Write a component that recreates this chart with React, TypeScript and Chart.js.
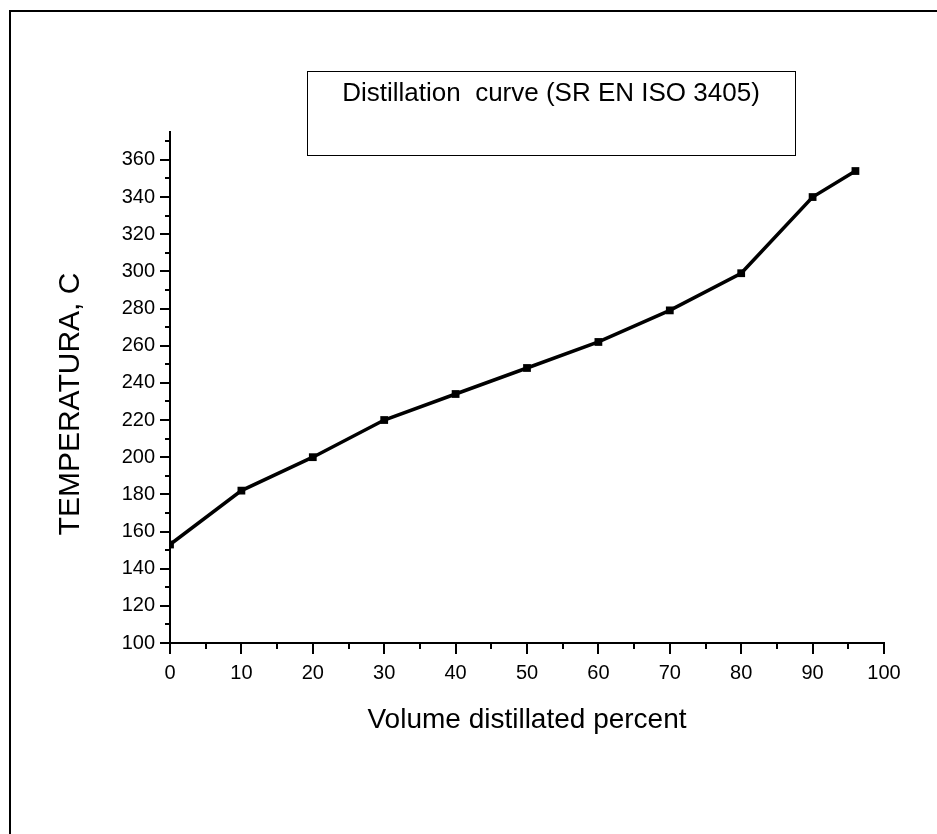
import { useEffect, useRef } from 'react';
import { Chart, registerables } from 'chart.js';

Chart.register(...registerables);

const volumePercent = [0, 10, 20, 30, 40, 50, 60, 70, 80, 90, 96];
const temperatureC = [153, 182, 200, 220, 234, 248, 262, 279, 299, 340, 354];
const xMajorTicks = [0, 10, 20, 30, 40, 50, 60, 70, 80, 90, 100];
const yMajorTicks = [100, 120, 140, 160, 180, 200, 220, 240, 260, 280, 300, 320, 340, 360];
const chartTitle = 'Distillation  curve (SR EN ISO 3405)';
const xAxisTitle = 'Volume distillated percent';
const yAxisTitle = 'TEMPERATURA, C';

const FONT = "'Liberation Sans', Arial, sans-serif";

export default function App() {
  const canvasRef = useRef<HTMLCanvasElement | null>(null);

  useEffect(() => {
    const canvas = canvasRef.current;
    if (!canvas) return;

    const decorations = {
      id: 'decorations',
      afterDraw(chart: any) {
        const ctx = chart.ctx;
        const xs = chart.scales.x;
        const ys = chart.scales.y;
        const area = chart.chartArea;
        ctx.save();
        ctx.fillStyle = '#000';
        // outer frame (top + left)
        ctx.fillRect(9, 10, 937, 2);
        ctx.fillRect(9, 10, 2, 834);

        // minor + major ticks on y
        for (let v = yMajorTicks[0]; v <= ys.max; v += 10) {
          const y = Math.round(ys.getPixelForValue(v));
          const len = yMajorTicks.includes(v) ? 10 : 5;
          ctx.fillRect(area.left - len, y - 1, len, 2);
        }
        // minor + major ticks on x
        for (let v = xMajorTicks[0]; v <= xMajorTicks[xMajorTicks.length - 1]; v += 5) {
          const x = Math.round(xs.getPixelForValue(v));
          const len = xMajorTicks.includes(v) ? 11 : 6;
          ctx.fillRect(x - 1, area.bottom, 2, len);
        }

        // title box
        ctx.strokeStyle = '#000';
        ctx.lineWidth = 1;
        ctx.strokeRect(307.5, 71.5, 488, 84);
        ctx.font = `26px ${FONT}`;
        ctx.textAlign = 'center';
        ctx.textBaseline = 'middle';
        ctx.fillText(chartTitle, 551, 94);

        // axis titles
        ctx.font = `28px ${FONT}`;
        ctx.fillText(xAxisTitle, (area.left + area.right) / 2, 720);
        ctx.font = `30px ${FONT}`;
        ctx.translate(71, 404);
        ctx.rotate(-Math.PI / 2);
        ctx.fillText(yAxisTitle, 0, 0);
        ctx.restore();
      },
    };

    const chart = new Chart(canvas, {
      type: 'scatter',
      data: {
        datasets: [
          {
            data: volumePercent.map((x, i) => ({ x, y: temperatureC[i] })),
            showLine: true,
            borderColor: '#000',
            borderWidth: 3.5,
            pointStyle: 'rect',
            pointRadius: 5.5,
            pointBackgroundColor: '#000',
            pointBorderColor: '#000',
            pointBorderWidth: 0,
            tension: 0,
          },
        ],
      },
      options: {
        responsive: false,
        animation: false,
        events: [],
        layout: { padding: { left: 10, top: 132, right: 53, bottom: 0 } },
        plugins: {
          legend: { display: false },
          tooltip: { enabled: false },
          title: { display: false },
        },
        scales: {
          x: {
            type: 'linear',
            min: 0,
            max: 100,
            grid: { display: true, drawOnChartArea: false, drawTicks: false },
            border: { display: true, color: '#000', width: 2 },
            ticks: {
              stepSize: 10,
              color: '#000',
              font: { family: FONT, size: 20 },
              padding: 18,
              maxRotation: 0,
              autoSkip: false,
            },
            afterFit(scale: any) {
              scale.height = 191;
            },
          },
          y: {
            type: 'linear',
            min: 100,
            max: 375,
            grid: { display: true, drawOnChartArea: false, drawTicks: false },
            border: { display: true, color: '#000', width: 2 },
            ticks: {
              stepSize: 20,
              includeBounds: false,
              color: '#000',
              font: { family: FONT, size: 20 },
              padding: 15,
              autoSkip: false,
            },
            afterFit(scale: any) {
              scale.width = 160;
            },
          },
        },
      },
      plugins: [decorations],
    });

    return () => chart.destroy();
  }, []);

  return (
    <div style={{ position: 'fixed', left: 0, top: 0, width: 937, height: 834, background: '#fff' }}>
      <canvas ref={canvasRef} width={937} height={834} />
    </div>
  );
}
